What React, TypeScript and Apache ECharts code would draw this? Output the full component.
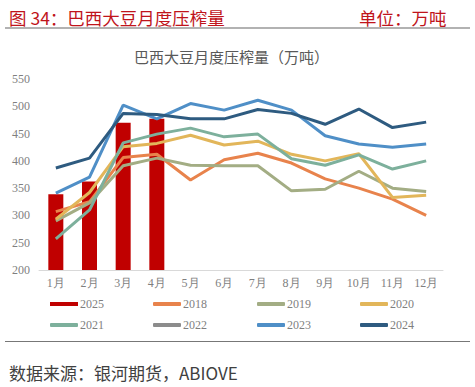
import React, { useEffect, useRef } from "react";
import * as echarts from "echarts";

const months = ["1月", "2月", "3月", "4月", "5月", "6月", "7月", "8月", "9月", "10月", "11月", "12月"];
const yTicks = [200, 250, 300, 350, 400, 450, 500, 550];

const s2025 = [339, 362, 470, 477];
const s2018 = [307, 325, 406, 412, 365, 402, 414, 396, 367, 350, 330, 300];
const s2019 = [290, 323, 391, 405, 392, 391, 391, 345, 348, 381, 350, 344];
const s2020 = [293, 342, 426, 432, 447, 429, 436, 412, 400, 413, 333, 337];
const s2021 = [257, 310, 433, 449, 460, 444, 449, 404, 392, 411, 385, 400];
const s2022: (number | null)[] = [];
const s2023 = [341, 370, 502, 477, 505, 493, 511, 493, 446, 431, 425, 431];
const s2024 = [387, 405, 487, 485, 477, 477, 494, 487, 467, 495, 461, 471];

const colors = {
  "2025": "#C00000",
  "2018": "#E8834C",
  "2019": "#A3AD84",
  "2020": "#E2B65A",
  "2021": "#7DB09C",
  "2022": "#8C8C8C",
  "2023": "#4F8FC7",
  "2024": "#2E5B80",
};

const lineSeries: [string, (number | null)[]][] = [
  ["2018", s2018],
  ["2019", s2019],
  ["2020", s2020],
  ["2021", s2021],
  ["2022", s2022],
  ["2023", s2023],
  ["2024", s2024],
];

export default function App() {
  const ref = useRef<HTMLDivElement>(null);
  useEffect(() => {
    if (!ref.current) return;
    const chart = echarts.init(ref.current, undefined, { renderer: "svg" });
    const legendFont = { color: "#7f7f7f", fontSize: 12, fontFamily: "Liberation Serif" };
    const legendCols = [
      ["2025", "2021"],
      ["2018", "2022"],
      ["2019", "2023"],
      ["2020", "2024"],
    ];
    const legendLefts = [45, 148, 252, 355];
    chart.setOption({
      animation: false,
      title: [
        {
          text: "图 34：巴西大豆月度压榨量",
          left: 4,
          top: 4,
          textStyle: { color: "#C0141B", fontSize: 17.5, fontWeight: "normal", fontFamily: "Noto Sans CJK SC" },
        },
        {
          text: "单位：万吨",
          left: 354,
          top: 4,
          textStyle: { color: "#C0141B", fontSize: 17.5, fontWeight: "normal", fontFamily: "Noto Sans CJK SC" },
        },
        {
          text: "巴西大豆月度压榨量（万吨）",
          left: 129,
          top: 44,
          textStyle: { color: "#595959", fontSize: 15, fontWeight: "normal", fontFamily: "Noto Sans CJK SC" },
        },
        {
          text: "数据来源：银河期货，ABIOVE",
          left: 4,
          top: 359,
          textStyle: { color: "#404040", fontSize: 17, fontWeight: "normal", fontFamily: "Noto Sans CJK SC" },
        },
      ],
      graphic: [
        { type: "line", shape: { x1: 5, y1: 28, x2: 470, y2: 28 }, style: { stroke: "#999", lineWidth: 1.5 } },
        { type: "line", shape: { x1: 5, y1: 341.5, x2: 470, y2: 341.5 }, style: { stroke: "#777", lineWidth: 1 } },
      ],
      legend: legendCols.map((col, i) => ({
        data: col.map((n) => ({ name: n, icon: n === "2025" ? "rect" : "roundRect" })),
        orient: "vertical",
        left: legendLefts[i],
        top: 293,
        itemWidth: 28,
        itemHeight: 4,
        itemGap: 9,
        textStyle: { ...legendFont, padding: [0, 0, 0, -3] },
      })),
      grid: { left: 39, right: 32, top: 79, bottom: 117 },
      xAxis: {
        type: "category",
        data: months,
        axisLine: { lineStyle: { color: "#d9d9d9", width: 1 } },
        axisTick: { show: false },
        axisLabel: { color: "#7f7f7f", fontSize: 12, margin: 7, fontFamily: "Liberation Serif" },
      },
      yAxis: {
        type: "value",
        min: yTicks[0],
        max: yTicks[yTicks.length - 1],
        interval: 50,
        splitLine: { show: false },
        axisLine: { show: false },
        axisTick: { show: false },
        axisLabel: { color: "#7f7f7f", fontSize: 12, margin: 9, fontFamily: "Liberation Serif" },
      },
      series: [
        {
          name: "2025",
          type: "bar",
          data: s2025,
          barWidth: 15,
          itemStyle: { color: colors["2025"] },
          z: 1,
        },
        ...lineSeries.map(([name, data]) => ({
          name,
          type: "line",
          data,
          symbol: "none",
          showSymbol: false,
          lineStyle: { color: (colors as any)[name], width: 3 },
          itemStyle: { color: (colors as any)[name] },
          z: 2,
        })),
      ],
    });
    return () => chart.dispose();
  }, []);
  return (
    <div
      ref={ref}
      style={{ position: "fixed", left: 0, top: 0, width: 475, height: 387, background: "#fff" }}
    />
  );
}
